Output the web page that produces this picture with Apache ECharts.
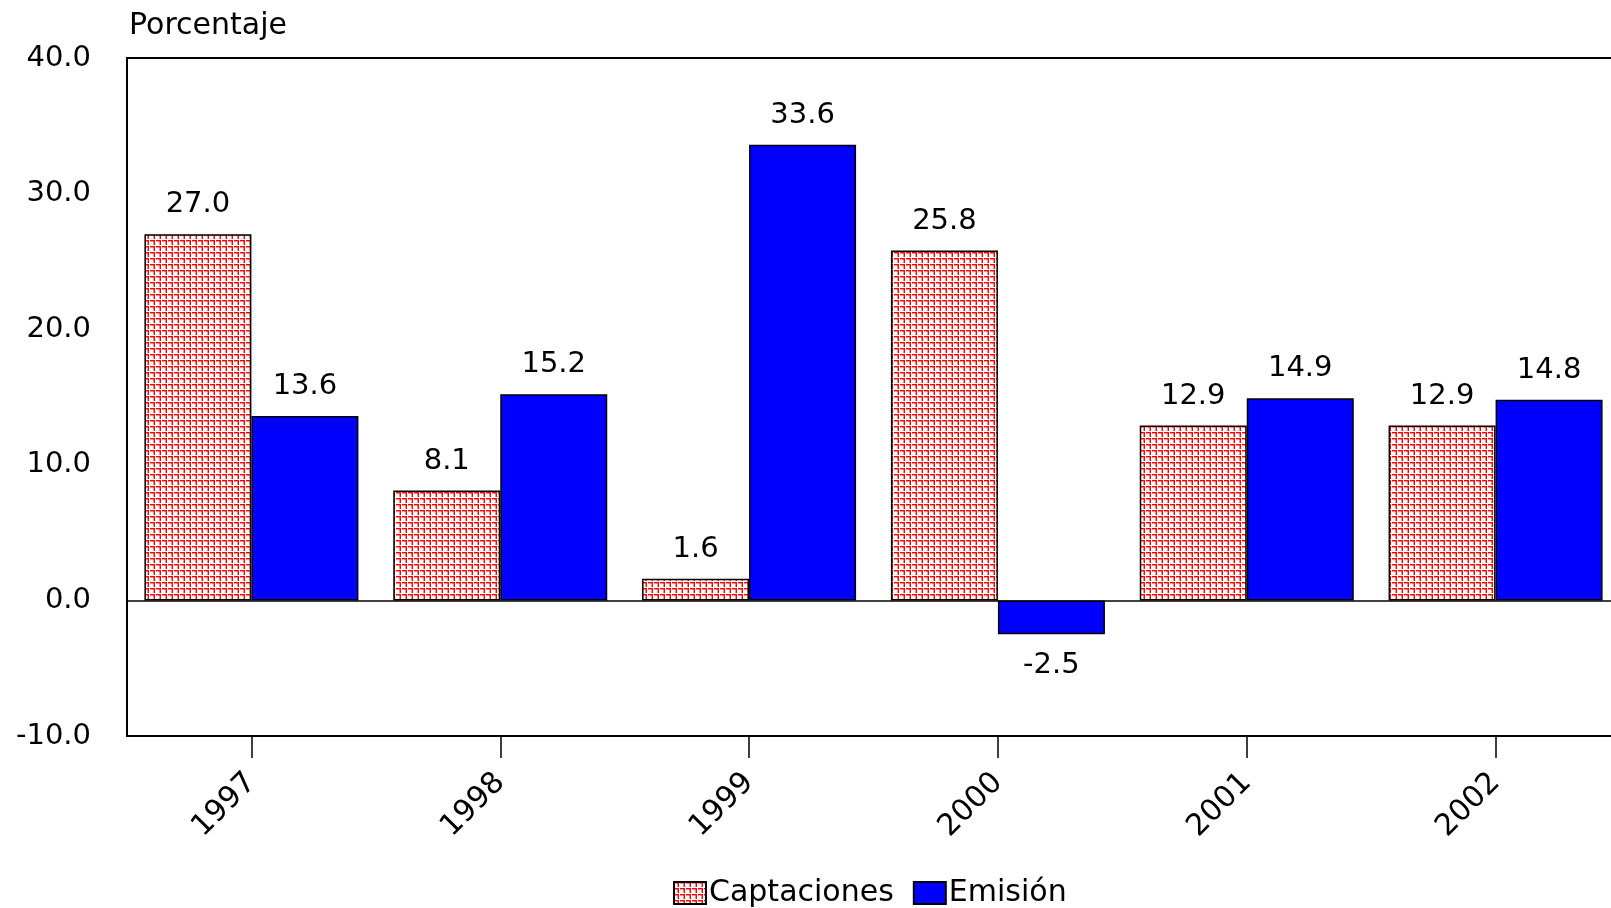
<!DOCTYPE html>
<html>
<head>
<meta charset="utf-8">
<script src="https://cdn.jsdelivr.net/npm/echarts@6/dist/echarts.min.js"></script>
<style>
  html, body { margin: 0; padding: 0; background: #fff; }
  #my_chart { width: 1611px; height: 908px; }
</style>
</head>
<body>
<div id="my_chart"></div>
<script>
var years = ['1997', '1998', '1999', '2000', '2001', '2002'];
var captaciones = [27.0, 8.1, 1.6, 25.8, 12.9, 12.9];
var emision = [13.6, 15.2, 33.6, -2.5, 14.9, 14.8];
var seriesNames = ['Captaciones', 'Emisión'];

// trama roja tipo "¬" sobre blanco
function makePattern() {
    var c = document.createElement('canvas');
    c.width = 6;
    c.height = 6;
    var ctx = c.getContext('2d');
    ctx.fillStyle = '#ffffff';
    ctx.fillRect(0, 0, 6, 6);
    ctx.fillStyle = 'rgba(255,0,0,0.45)';
    ctx.fillRect(0, 1, 4, 1);
    ctx.fillRect(3, 1, 1, 4);
    ctx.fillStyle = '#ff0000';
    ctx.fillRect(0, 0, 5, 1);
    ctx.fillRect(4, 0, 1, 5);
    return c;
}

// etiqueta arriba si es positivo, abajo si es negativo
function withLabelPos(arr) {
    return arr.map(function (v) {
        return {
            value: v,
            label: v < 0 ? { position: 'bottom', distance: 17 } : { position: 'top', distance: 15 }
        };
    });
}

var font = 'DejaVu Sans';
var myChart = echarts.init(document.getElementById('my_chart'));
var option = {
    animation: false,
    backgroundColor: '#ffffff',
    title: {
        text: 'Porcentaje',
        left: 124,
        top: 6,
        textStyle: { fontFamily: font, fontSize: 30, fontWeight: 'normal', color: '#000' }
    },
    legend: {
        data: seriesNames,
        icon: 'rect',
        left: 668,
        top: 873,
        itemWidth: 32,
        itemHeight: 22,
        itemGap: 19,
        textStyle: { fontFamily: font, fontSize: 30, color: '#000', padding: [0, 0, 0, -2] }
    },
    grid: {
        left: 127,
        top: 58,
        bottom: 172,
        width: 1493,
        outerBoundsMode: 'none',
        containLabel: false,
        show: true,
        borderColor: '#000',
        borderWidth: 2,
        backgroundColor: 'transparent'
    },
    xAxis: {
        type: 'category',
        data: years,
        axisLine: { onZero: false, lineStyle: { color: '#000', width: 2 } },
        axisTick: { show: true, alignWithLabel: true, length: 22, lineStyle: { color: '#000', width: 1.5 } },
        axisLabel: { rotate: 45, margin: 42, fontFamily: font, fontSize: 30, color: '#000' }
    },
    yAxis: {
        type: 'value',
        min: -10,
        max: 40,
        interval: 10,
        axisLine: { show: true, lineStyle: { color: '#000', width: 2 } },
        axisTick: { show: false },
        splitLine: { show: false },
        axisLabel: {
            margin: 36,
            fontFamily: font,
            fontSize: 29,
            color: '#000',
            formatter: function (v) { return v.toFixed(1); }
        }
    },
    series: [
        {
            name: seriesNames[0],
            type: 'bar',
            barWidth: 107,
            barGap: '0%',
            data: withLabelPos(captaciones),
            itemStyle: {
                color: { image: makePattern(), repeat: 'repeat' },
                borderColor: '#000',
                borderWidth: 1.5
            },
            label: {
                show: true,
                fontFamily: font,
                fontSize: 29,
                color: '#000',
                formatter: function (p) { return p.value.toFixed(1); }
            }
        },
        {
            name: seriesNames[1],
            type: 'bar',
            barWidth: 107,
            barGap: '0%',
            data: withLabelPos(emision),
            itemStyle: {
                color: '#0000ff',
                borderColor: '#000',
                borderWidth: 1.5
            },
            label: {
                show: true,
                fontFamily: font,
                fontSize: 29,
                color: '#000',
                formatter: function (p) { return p.value.toFixed(1); }
            },
            markLine: {
                silent: true,
                symbol: ['none', 'none'],
                label: { show: false },
                lineStyle: { color: '#000', width: 1.5, type: 'solid' },
                data: [{ yAxis: 0 }]
            }
        }
    ]
};
myChart.setOption(option);
</script>
</body>
</html>
